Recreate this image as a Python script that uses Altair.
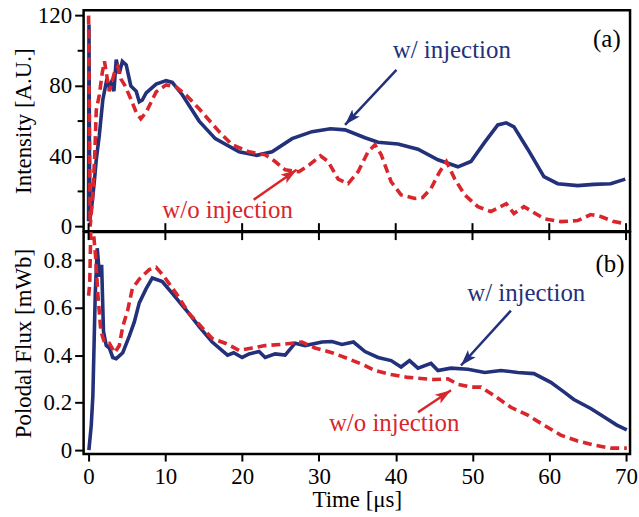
import math
import altair as alt
import pandas as pd

# ---------------- data ----------------
# (a) Intensity, with injection (blue, solid)
int_inj_t = [0.0, 0.05, 0.15, 0.5, 0.8, 1.0, 1.4, 1.85, 2.3, 2.6, 2.9, 3.3, 3.6, 4.0, 4.4, 4.9, 5.5, 6.2,
             6.6, 7.0, 7.5, 8.8, 10.1, 10.9, 12.2, 14.4, 16.5, 19.6, 21.9, 23.9, 26.5, 29.1, 31.5, 33.4,
             36.0, 37.7, 40.3, 42.9, 45.5, 48.1, 49.8, 51.6, 53.3, 54.4, 55.4, 57.2, 59.3, 61.1, 63.7,
             65.8, 68.0, 69.9]
int_inj_v = [3, 115, 3, 15, 28, 38, 52, 72, 82, 80, 82, 77, 95, 87, 94, 92, 80, 77,
             71, 72, 76, 81, 83, 82, 75, 60, 50, 42.5, 40.5, 42.5, 50, 54, 55.6, 55,
             50.5, 48, 47, 44, 38, 34, 37, 48, 57.8, 59, 56.7, 44, 28.4, 24.4, 23.3,
             24, 24.4, 27]

# (a) Intensity, without injection (red, dashed)
int_wo_t = [0.0, 0.1, 0.2, 0.5, 0.8, 1.0, 1.4, 1.8, 2.07, 2.4, 2.7, 3.4, 3.8, 4.2, 4.7, 5.5, 6.2, 6.8,
            7.5, 8.8, 10.1, 11.4, 12.7, 14.4, 17.0, 18.7, 20.9, 23.0, 24.3, 25.6, 27.4, 28.7, 30.2,
            31.2, 32.5, 33.8, 35.1, 36.4, 37.3, 38.1, 39.4, 40.7, 42.5, 43.5, 44.6, 45.7, 46.6, 47.7,
            49.0, 50.7, 52.4, 54.4, 55.4, 56.7, 57.8, 59.3, 61.5, 63.7, 65.4, 66.7, 68.4, 69.9]
int_wo_v = [120, 60, 0, 15, 40, 66, 75, 88, 94, 85, 77, 88, 91, 84, 80.5, 72.6, 65, 61.3,
            65, 76.6, 80.6, 79.4, 74.8, 67, 54, 46.5, 42.5, 40.8, 37, 32.3, 31.2, 35, 40.3,
            37, 27, 24.4, 31.2, 42.5, 46.5, 41, 25.5, 18, 16, 16.5, 21.7, 31, 37, 27,
            18, 11.3, 8.5, 13, 7.4, 11.3, 8.5, 4.5, 2.8, 3.4, 6.8, 5.7, 2.8, 1.7]

# (b) Poloidal flux, with injection (blue, solid)
flux_inj_t = [0.04, 0.35, 0.56, 0.87, 1.13, 1.43, 1.7, 1.94, 2.3, 2.7, 3.15, 3.6, 4.45, 5.3, 5.96, 6.6,
              7.5, 8.3, 9.6, 10.9, 12.7, 14.4, 16.1, 18.1, 18.9, 20.0, 20.9, 22.2, 23.0, 24.3, 25.6,
              26.9, 28.2, 30.4, 31.7, 33.0, 34.5, 36.0, 37.7, 39.4, 40.7, 41.8, 42.9, 44.6, 45.5,
              47.2, 49.4, 51.6, 53.7, 55.9, 58.0, 60.2, 61.9, 63.2, 65.4, 67.1, 68.8, 70.1]
flux_inj_v = [0.0, 0.105, 0.23, 0.66, 0.85, 0.73, 0.78, 0.50, 0.44, 0.43, 0.39, 0.385, 0.41, 0.48, 0.54, 0.62,
              0.68, 0.725, 0.71, 0.66, 0.59, 0.52, 0.455, 0.40, 0.41, 0.39, 0.405, 0.415, 0.39, 0.405, 0.40,
              0.45, 0.44, 0.455, 0.457, 0.445, 0.455, 0.415, 0.39, 0.377, 0.35, 0.377, 0.345, 0.365, 0.335,
              0.345, 0.34, 0.327, 0.335, 0.327, 0.322, 0.285, 0.245, 0.213, 0.175, 0.14, 0.105, 0.085]

# (b) Poloidal flux, without injection (red, dashed)
flux_wo_t = [0.0, 0.15, 0.3, 0.6, 0.9, 1.2, 1.6, 2.1, 2.7, 3.4, 4.0, 4.45, 5.1, 5.7, 6.6, 7.9, 8.8, 9.85,
             11.4, 13.1, 14.8, 16.1, 17.8, 19.6, 21.3, 23.0, 25.2, 27.8, 29.5, 31.7, 33.8, 36.0, 37.3,
             39.4, 41.6, 45.0, 46.8, 48.1, 49.8, 51.1, 52.8, 55.0, 57.2, 59.3, 61.5, 63.7, 65.8, 68.0, 70.1]
flux_wo_v = [0.65, 0.70, 0.95, 0.93, 0.82, 0.66, 0.50, 0.45, 0.45, 0.41, 0.44, 0.52, 0.59, 0.68, 0.72, 0.76, 0.77, 0.73,
             0.66, 0.575, 0.515, 0.47, 0.45, 0.42, 0.43, 0.44, 0.445, 0.455, 0.43, 0.41, 0.385, 0.356, 0.335,
             0.318, 0.306, 0.297, 0.30, 0.277, 0.265, 0.265, 0.23, 0.18, 0.147, 0.105, 0.063, 0.038, 0.021, 0.008, 0.008]

time_ticks = [0, 10, 20, 30, 40, 50, 60, 70]
int_ticks = [0, 40, 80, 120]
int_minor = [20, 60, 100]
flux_ticks = [0, 0.2, 0.4, 0.6, 0.8]

# annotations: label, position (t, v), colour
a_labels = ["w/ injection", "w/o injection", "(a)"]
a_t = [47.3, 18.1, 67.5]
a_v = [100.4, 9.6, 106.7]
b_labels = ["w/ injection", "w/o injection", "(b)"]
b_t = [57.0, 39.8, 67.9]
b_v = [0.662, 0.113, 0.784]
lab_colors = ["#23307a", "#d8262c", "black"]

# arrows: start (t0, v0) -> tip (t1, v1)
a_arr_t0 = [40.1, 21.5]
a_arr_v0 = [89.1, 15.3]
a_arr_t1 = [33.4, 27.1]
a_arr_v1 = [57.9, 32.3]
b_arr_t0 = [55.0, 42.9]
b_arr_v0 = [0.587, 0.159]
b_arr_t1 = [48.5, 47.2]
b_arr_v1 = [0.356, 0.252]
arr_colors = ["#23307a", "#d8262c"]

# ---------------- layout ----------------
BLUE = "#23307a"
RED = "#d8262c"
FONT = "Liberation Serif"
W = 549
H1 = 222
H2 = 223
XDOM = [-0.648, 70.52]
Y1DOM = [-2.6, 123.1]
Y2DOM = [-0.017, 0.918]

xs = alt.Scale(domain=XDOM, nice=False, zero=False)
ys1 = alt.Scale(domain=Y1DOM, nice=False, zero=False)
ys2 = alt.Scale(domain=Y2DOM, nice=False, zero=False)

ax_y1 = alt.Axis(values=int_ticks, title="Intensity [A.U.]", tickSize=9, labelPadding=3,
                 minExtent=46, maxExtent=46, titlePadding=2)
ax_y2 = alt.Axis(values=flux_ticks, title="Polodal Flux [mWb]", tickSize=9, labelPadding=3,
                 minExtent=46, maxExtent=46, titlePadding=2,
                 labelExpr="datum.value == 0 ? '0' : format(datum.value, '.1f')")
ax_x2 = alt.Axis(values=time_ticks, title="Time [\u03bcs]", tickSize=7, labelPadding=5, titlePadding=0)

ARROW = "M0,0 L0.42,1.3 L0,1.0 L-0.42,1.3 Z"


def arrow_layers(t0, v0, t1, v1, cols, yscale, ydom, h, xax, yax):
    pxt = W / (XDOM[1] - XDOM[0])
    pxv = h / (ydom[1] - ydom[0])
    angs = []
    for a, b, c, d in zip(t0, v0, t1, v1):
        dx = (c - a) * pxt
        dy = -(d - b) * pxv
        angs.append(math.degrees(math.atan2(dx, -dy)) % 360)
    df = pd.DataFrame({"t": t0, "v": v0, "t1": t1, "v1": v1, "c": cols, "ang": angs})
    shaft = alt.Chart(df).mark_rule(strokeWidth=2.5).encode(
        x=alt.X("t:Q", scale=xs, axis=xax), x2="t1:Q",
        y=alt.Y("v:Q", scale=yscale, axis=yax), y2="v1:Q",
        color=alt.Color("c:N", scale=None))
    head = alt.Chart(df).mark_point(shape=ARROW, filled=True, size=620, opacity=1, strokeWidth=0).encode(
        x=alt.X("t1:Q", scale=xs, axis=xax),
        y=alt.Y("v1:Q", scale=yscale, axis=yax),
        angle=alt.Angle("ang:Q", scale=None),
        color=alt.Color("c:N", scale=None))
    return [shaft, head]


def text_layer(labels, t, v, yscale, xax, yax):
    df = pd.DataFrame({"t": t, "v": v, "label": labels, "c": lab_colors})
    return alt.Chart(df).mark_text(font=FONT, fontSize=25, align="center", baseline="middle").encode(
        x=alt.X("t:Q", scale=xs, axis=xax),
        y=alt.Y("v:Q", scale=yscale, axis=yax),
        text="label:N",
        color=alt.Color("c:N", scale=None))


# ---------- panel (a) ----------
df_a_inj = pd.DataFrame({"t": int_inj_t, "v": int_inj_v})
df_a_wo = pd.DataFrame({"t": int_wo_t, "v": int_wo_v})

a_main = alt.Chart(df_a_inj).mark_line(color=BLUE, strokeWidth=3.6, clip=True).encode(
    x=alt.X("t:Q", scale=xs, axis=None),
    y=alt.Y("v:Q", scale=ys1, axis=ax_y1))
a_red = alt.Chart(df_a_wo).mark_line(color=RED, strokeWidth=3.6, strokeDash=[9, 5], clip=True).encode(
    x=alt.X("t:Q", scale=xs, axis=None),
    y=alt.Y("v:Q", scale=ys1, axis=ax_y1))
a_xt = alt.Chart(pd.DataFrame({"t": time_ticks})).mark_rule(color="black", strokeWidth=2).encode(
    x=alt.X("t:Q", scale=xs, axis=None), y=alt.value(H1), y2=alt.value(H1 - 8))
a_mt = alt.Chart(pd.DataFrame({"v": int_minor})).mark_rule(color="black", strokeWidth=2).encode(
    y=alt.Y("v:Q", scale=ys1, axis=ax_y1), x=alt.value(-6), x2=alt.value(0))

panel_a = alt.layer(
    a_main, a_red, a_xt, a_mt,
    *arrow_layers(a_arr_t0, a_arr_v0, a_arr_t1, a_arr_v1, arr_colors, ys1, Y1DOM, H1, None, ax_y1),
    text_layer(a_labels, a_t, a_v, ys1, None, ax_y1),
).properties(width=W, height=H1)

# ---------- panel (b) ----------
df_b_inj = pd.DataFrame({"t": flux_inj_t, "v": flux_inj_v})
df_b_wo = pd.DataFrame({"t": flux_wo_t, "v": flux_wo_v})

b_main = alt.Chart(df_b_inj).mark_line(color=BLUE, strokeWidth=3.6, clip=True).encode(
    x=alt.X("t:Q", scale=xs, axis=ax_x2),
    y=alt.Y("v:Q", scale=ys2, axis=ax_y2))
b_red = alt.Chart(df_b_wo).mark_line(color=RED, strokeWidth=3.6, strokeDash=[9, 5], clip=True).encode(
    x=alt.X("t:Q", scale=xs, axis=ax_x2),
    y=alt.Y("v:Q", scale=ys2, axis=ax_y2))
b_xt = alt.Chart(pd.DataFrame({"t": time_ticks})).mark_rule(color="black", strokeWidth=2).encode(
    x=alt.X("t:Q", scale=xs, axis=ax_x2), y=alt.value(0), y2=alt.value(8))

panel_b = alt.layer(
    b_main, b_red, b_xt,
    *arrow_layers(b_arr_t0, b_arr_v0, b_arr_t1, b_arr_v1, arr_colors, ys2, Y2DOM, H2, ax_x2, ax_y2),
    text_layer(b_labels, b_t, b_v, ys2, ax_x2, ax_y2),
).properties(width=W, height=H2)

chart = alt.vconcat(panel_a, panel_b, spacing=1, bounds="flush").properties(
    padding={"left": 11, "top": 2, "right": 0, "bottom": 2},
    background="white",
).configure_view(
    stroke="black", strokeWidth=2.5
).configure_axis(
    labelFont=FONT, titleFont=FONT, labelFontSize=23, titleFontSize=23,
    titleFontWeight="normal", labelColor="black", titleColor="black",
    tickColor="black", tickWidth=2, domain=False, grid=False,
).configure_text(
    font=FONT
)

chart.save("out.html", embed_options={"renderer": "svg", "actions": False})
